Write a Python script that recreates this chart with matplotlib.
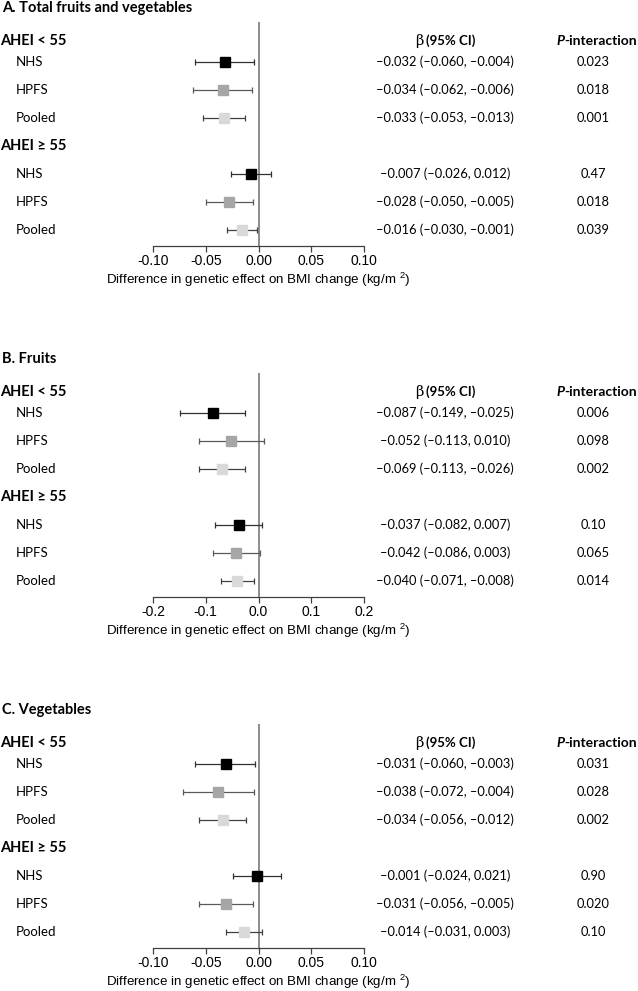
import matplotlib
matplotlib.use('Agg')
import matplotlib.pyplot as plt
import matplotlib.transforms as mtransforms
import numpy as np

plt.rcParams['axes.unicode_minus'] = False
plt.rcParams['mathtext.default'] = 'regular'

W, H = 638, 991

panel_titles = ["A. Total fruits and vegetables", "B. Fruits", "C. Vegetables"]
group_labels = ["AHEI < 55", "AHEI \u2265 55"]
cohorts = ["NHS", "HPFS", "Pooled"]

# beta, lower CI, upper CI, P-interaction for each panel (NHS, HPFS, Pooled) x (AHEI<55, AHEI>=55)
beta_a = [-0.032, -0.034, -0.033, -0.007, -0.028, -0.016]
lo_a = [-0.060, -0.062, -0.053, -0.026, -0.050, -0.030]
hi_a = [-0.004, -0.006, -0.013, 0.012, -0.005, -0.001]
p_a = ["0.023", "0.018", "0.001", "0.47", "0.018", "0.039"]

beta_b = [-0.087, -0.052, -0.069, -0.037, -0.042, -0.040]
lo_b = [-0.149, -0.113, -0.113, -0.082, -0.086, -0.071]
hi_b = [-0.025, 0.010, -0.026, 0.007, 0.003, -0.008]
p_b = ["0.006", "0.098", "0.002", "0.10", "0.065", "0.014"]

beta_c = [-0.031, -0.038, -0.034, -0.001, -0.031, -0.014]
lo_c = [-0.060, -0.072, -0.056, -0.024, -0.056, -0.031]
hi_c = [-0.003, -0.004, -0.012, 0.021, -0.005, 0.003]
p_c = ["0.031", "0.028", "0.002", "0.90", "0.020", "0.10"]

xticks_ac = [-0.10, -0.05, 0.00, 0.05, 0.10]
xticks_b = [-0.2, -0.1, 0.0, 0.1, 0.2]

marker_colors = ['#000000', '#a6a6a6', '#d9d9d9']
err_colors = ['#303030', '#595959', '#404040']

txt_font = 'Lato'
tick_font = 'Liberation Sans'


def fx(px):
    return px / W


def fy(py):
    return 1 - py / H


def fmt(v):
    return "{:.3f}".format(v).replace("-", "\u2013")


def draw_panel(fig, off, title, beta, lo, hi, pvals, xticks, tickfmt):
    # plot area in pixels
    ax = fig.add_axes([fx(153), fy(246 + off), fx(364) - fx(153), (224) / H])
    rows = [1.5, 2.5, 3.5, 5.5, 6.5, 7.5]
    heads = [0.75, 4.5]
    ax.set_ylim(8.07, 0.07)
    ax.set_xlim(xticks[0], xticks[-1])
    for i, (b, l, h) in enumerate(zip(beta, lo, hi)):
        c = i % 3
        ax.errorbar(b, rows[i], xerr=[[b - l], [h - b]], fmt='s', ms=6.8,
                    mfc=marker_colors[c], mec=marker_colors[c],
                    ecolor=err_colors[c], elinewidth=0.9, capsize=2.3,
                    capthick=0.9, zorder=3)
    ax.axvline(0, color='#8c8c8c', lw=1.4, zorder=2)
    for s in ['top', 'right', 'left']:
        ax.spines[s].set_visible(False)
    ax.spines['bottom'].set_color('#404040')
    ax.spines['bottom'].set_linewidth(0.9)
    ax.set_yticks([])
    ax.set_xticks(xticks)
    ax.set_xticklabels([tickfmt.format(t) for t in xticks], fontsize=10,
                       fontfamily=tick_font)
    ax.tick_params(axis='x', length=4, width=0.9, color='#404040', pad=1.5)
    ax.set_xlabel("Difference in genetic effect on BMI change (kg/m $^{2}$)",
                  fontsize=9.6, fontfamily=tick_font, labelpad=2.5)

    tr = mtransforms.blended_transform_factory(fig.transFigure, ax.transData)
    fig.text(fx(2), fy(8 + off), title, fontsize=10.5, fontweight='bold',
             family=txt_font, va='center', ha='left')
    for g in range(2):
        fig.text(fx(0), heads[g], group_labels[g], transform=tr, fontsize=10.5,
                 fontweight='bold', family=txt_font, va='center')
    for i in range(6):
        fig.text(fx(16), rows[i], cohorts[i % 3], transform=tr, fontsize=9.5,
                 family=txt_font, va='center')
        ci = "{} ({}, {})".format(fmt(beta[i]), fmt(lo[i]), fmt(hi[i]))
        fig.text(fx(445), rows[i], ci, transform=tr, fontsize=9.3,
                 family=txt_font, va='center', ha='center')
        fig.text(fx(593), rows[i], pvals[i], transform=tr, fontsize=9.3,
                 family=txt_font, va='center', ha='center')
    # column headers
    fig.text(fx(423), heads[0], "\u03b2", transform=tr, fontsize=10.5,
             family='DejaVu Serif', va='center', ha='right')
    fig.text(fx(426), heads[0], "(95% CI)", transform=tr, fontsize=9.5,
             fontweight='bold', family=txt_font, va='center', ha='left')
    fig.text(fx(564), heads[0], "P", transform=tr, fontsize=10,
             fontweight='bold', fontstyle='italic', family=txt_font,
             va='center', ha='right')
    fig.text(fx(564), heads[0], "-interaction", transform=tr, fontsize=10,
             fontweight='bold', family=txt_font, va='center', ha='left')
    return ax


fig = plt.figure(figsize=(W / 100, H / 100), dpi=100)
draw_panel(fig, 0, panel_titles[0], beta_a, lo_a, hi_a, p_a, xticks_ac, "{:.2f}")
draw_panel(fig, 351, panel_titles[1], beta_b, lo_b, hi_b, p_b, xticks_b, "{:.1f}")
draw_panel(fig, 702, panel_titles[2], beta_c, lo_c, hi_c, p_c, xticks_ac, "{:.2f}")

plt.savefig('out.png', dpi=100)
